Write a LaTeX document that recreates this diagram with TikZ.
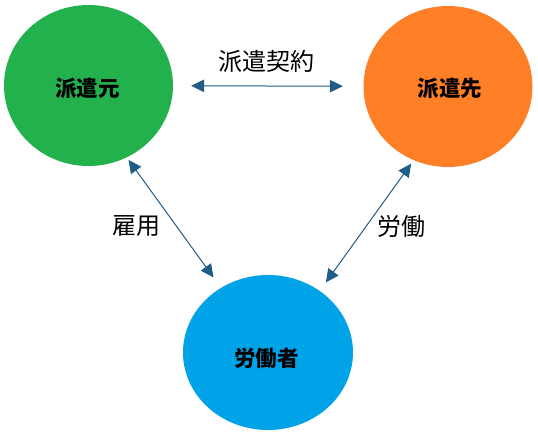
\documentclass[tikz,border=0pt]{standalone}
\usepackage{fontspec}
\newfontfamily\jpfont{Noto Sans CJK JP}
\usetikzlibrary{shapes.geometric,arrows.meta}
\definecolor{partyGreen}{HTML}{22B14C}
\definecolor{partyOrange}{HTML}{FF7F27}
\definecolor{partyBlue}{HTML}{00A2E8}
\definecolor{linkBlue}{HTML}{1F5D87}

\begin{document}
\begin{tikzpicture}[x=1pt, y=-1pt,
		party/.style={shape=ellipse, minimum width=169pt, minimum height=161pt, inner sep=0pt, font=\jpfont\fontsize{21.5}{25}\selectfont\bfseries},
		rel/.style={font=\jpfont\fontsize{24}{28}\selectfont},
		biarrow/.style={draw=linkBlue, line width=1pt, {Triangle[length=13pt, width=12.5pt]}-{Triangle[length=13pt, width=12.5pt]}}]
			\useasboundingbox (0, 0) rectangle (538, 437);
			\node[party, fill=partyGreen](N1) at (88.5, 85.5){};
			\node[party, fill=partyOrange](N2) at (448, 86.5){};
			\node[party, fill=partyBlue, minimum width=170pt, minimum height=155pt](N3) at (268, 352.5){};
			\node[party, anchor=center](T1) at (87.5, 88){派遣元};
			\node[party, anchor=center](T2) at (450, 88){派遣先};
			\node[party, anchor=center](T3) at (266.5, 358){労働者};
			\node[rel](L1) at (266, 61){派遣契約};
			\node[rel](L2) at (136, 226){雇用};
			\node[rel](L3) at (401, 226){労働};
			\draw[biarrow, shorten <=18pt, shorten >=20.5pt] (N1) -- (N2);
			\draw[biarrow, shorten <=3pt, shorten >=12.7pt] (N1.-62.4) -- (N3.126.6);
			\draw[biarrow, shorten <=4.2pt, shorten >=10.4pt] (N2.245.2) -- (N3.50.6);
		\end{tikzpicture}
\end{document}
